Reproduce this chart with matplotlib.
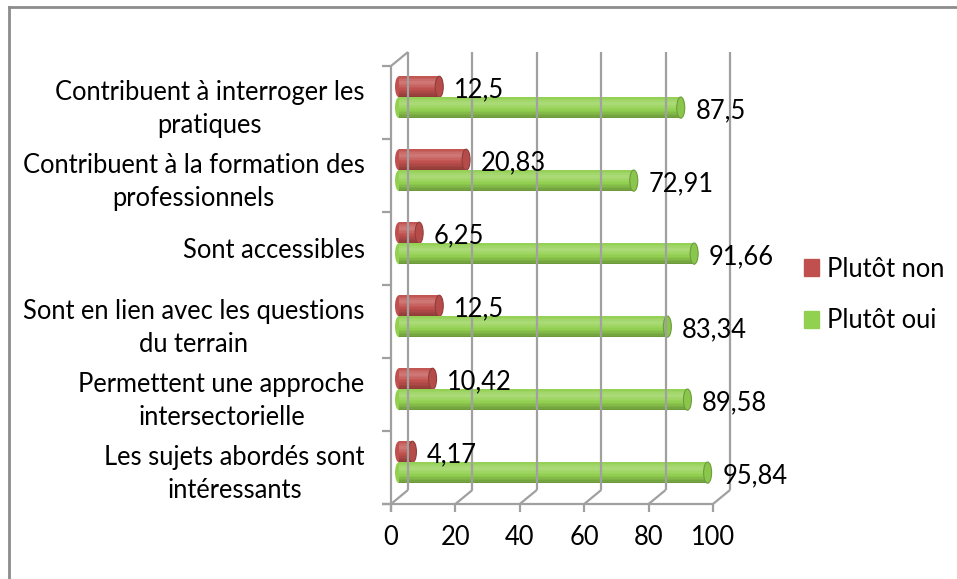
"""Horizontal cylinder bar chart: Plutôt oui / Plutôt non per statement."""

import matplotlib

matplotlib.use("Agg")

import matplotlib.pyplot as plt
import numpy as np
from matplotlib.colors import to_rgb
from matplotlib.lines import Line2D
from matplotlib.patches import Ellipse, Patch

# bottom to top, as on the chart
categories = [
    "Les sujets abordés sont\nintéressants",
    "Permettent une approche\nintersectorielle",
    "Sont en lien avec les questions\ndu terrain",
    "Sont accessibles",
    "Contribuent à la formation des\nprofessionnels",
    "Contribuent à interroger les\npratiques",
]
plutot_non = [4.17, 10.42, 12.5, 6.25, 20.83, 12.5]
plutot_oui = [95.84, 89.58, 83.34, 91.66, 72.91, 87.5]
series_names = ["Plutôt non", "Plutôt oui"]
x_ticks = [0, 20, 40, 60, 80, 100]

RED = "#c0504d"
GREEN = "#92d050"
GRID = "#a0a0a0"
FONT = "Lato"
FS = 18.4

plt.rcParams["font.family"] = [FONT, "DejaVu Sans"]

fig = plt.figure(figsize=(9.57, 5.79), dpi=100)
W, H = 957, 579
left_px, right_px, top_px, bottom_px = 391, 713, 66, 504
ax = fig.add_axes([left_px / W, (H - bottom_px) / H,
                   (right_px - left_px) / W, (bottom_px - top_px) / H])
ax.set_xlim(0, 100)
ax.set_ylim(-0.5, len(categories) - 0.5)
for spine in ax.spines.values():
    spine.set_visible(False)

px_x = 100 / (right_px - left_px)          # data units per pixel, x
px_y = len(categories) / (bottom_px - top_px)  # data units per pixel, y
dx, dy = 17 * px_x, 14 * px_y               # depth offset of back wall
y0, y1 = -0.5, len(categories) - 0.5
line_kw = dict(color=GRID, lw=1.6, clip_on=False, solid_capstyle="butt")

# back wall gridlines and floor diagonals
for xt in x_ticks:
    ax.add_line(Line2D([xt + dx, xt + dx], [y0 + dy, y1 + dy], **line_kw))
    ax.add_line(Line2D([xt, xt + dx], [y0, y0 + dy], **line_kw))
    ax.add_line(Line2D([xt, xt], [y0, y0 - 8 * px_y], **line_kw))
# front floor edge and left wall
ax.add_line(Line2D([-9 * px_x, 100], [y0, y0], **line_kw))
ax.add_line(Line2D([0, 0], [y0 - 8 * px_y, y1], **line_kw))
ax.add_line(Line2D([0, dx], [y1, y1 + dy], **line_kw))
for k in range(len(categories) + 1):
    ax.add_line(Line2D([-9 * px_x, 0], [y0 + k, y0 + k], **line_kw))


def shade(color, f):
    c = np.array(to_rgb(color))
    if f >= 0:
        return tuple(c + (1 - c) * f)
    return tuple(c * (1 + f))


def draw_cylinder(yc, value, height, color):
    d0 = 8 * px_x
    cap = 8 * px_x
    stops_t = [0.0, 0.28, 0.6, 1.0]
    stops_f = [0.0, 0.25, 0.0, -0.28]
    n = 14
    ax.add_patch(Ellipse((d0, yc), cap, height, color=shade(color, 0.0), lw=0))
    for i in range(n):
        t = (i + 0.5) / n
        f = np.interp(t, stops_t, stops_f)
        top = yc + height / 2 - i * height / n
        ax.barh(top - height / (2 * n), value, height=height / n * 1.02,
                left=d0, color=shade(color, f), lw=0)
    ax.add_patch(Ellipse((d0 + value, yc), cap, height,
                         facecolor=shade(color, -0.05), edgecolor=shade(color, -0.25), lw=0.8))


bar_h = 0.29
for i, (non, oui) in enumerate(zip(plutot_non, plutot_oui)):
    for value, offset, color in ((non, 0.215, RED), (oui, -0.07, GREEN)):
        yc = i + offset
        draw_cylinder(yc, value, bar_h, color)
        ax.text(value + 7, yc - 0.04, f"{value:g}".replace(".", ","),
                ha="left", va="center", fontsize=FS)

ax.set_yticks(range(len(categories)))
ax.set_yticklabels(categories, fontsize=FS, linespacing=1.4)
for lbl in ax.get_yticklabels():
    lbl.set_multialignment("center")
ax.tick_params(axis="y", length=0, pad=19)
ax.set_xticks(x_ticks)
ax.set_xticklabels([str(v) for v in x_ticks], fontsize=FS)
ax.tick_params(axis="x", length=0, pad=15)

handles = [Patch(color=RED), Patch(color=GREEN)]
fig.legend(handles, series_names, loc="center left", bbox_to_anchor=(781 / W, 1 - 295 / H),
           frameon=False, fontsize=FS, handlelength=0.6, handleheight=0.6,
           handletextpad=0.3, labelspacing=1.05)

# chart border (only top and left edges fall inside the picture)
fig.add_artist(Line2D([9 / W, 1], [1 - 7 / H, 1 - 7 / H], color="#8c8c8c", lw=2,
                      transform=fig.transFigure))
fig.add_artist(Line2D([9 / W, 9 / W], [0, 1 - 7 / H], color="#8c8c8c", lw=2,
                      transform=fig.transFigure))

fig.savefig("out.png", dpi=100)
